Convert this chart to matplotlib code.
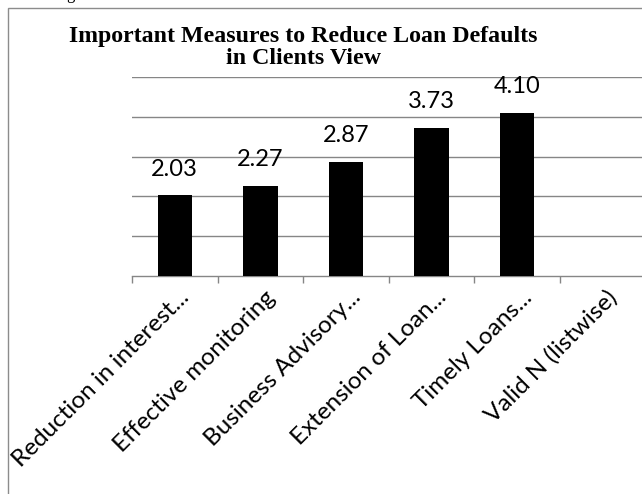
import numpy as np
import matplotlib
matplotlib.use("Agg")
import matplotlib.pyplot as plt
from matplotlib.patches import Rectangle

# Mean scores of the measures (last category has no score)
categories = ["Reduction in interest...", "Effective monitoring", "Business Advisory...",
              "Extension of Loan...", "Timely Loans...", "Valid N (listwise)"]
scores = [2.03, 2.27, 2.87, 3.73, 4.10]

W, H, DPI = 642, 494, 100
fig = plt.figure(figsize=(W / DPI, H / DPI), dpi=DPI)

# plot area in pixel coordinates
left, right, top, bottom = 132, 645.6, 77, 276
ax = fig.add_axes([left / W, 1 - bottom / H, (right - left) / W, (bottom - top) / H])

grey = "#868686"
x = np.arange(len(scores))
ax.bar(x, scores, width=0.4, color="black", zorder=3)

ax.set_xlim(-0.5, len(categories) - 0.5)
ax.set_ylim(0, 5)
ax.set_yticks(np.arange(1, 6))
ax.yaxis.grid(True, color=grey, linewidth=1.0)
ax.tick_params(axis="y", length=0, labelleft=False)
for side in ["left", "right", "top"]:
    ax.spines[side].set_visible(False)
ax.spines["bottom"].set_color(grey)
ax.spines["bottom"].set_linewidth(1.0)

# tick marks sit between categories
ax.set_xticks(np.arange(len(categories) + 1) - 0.5)
ax.tick_params(axis="x", direction="out", length=5, width=1.0, color=grey, labelbottom=False)

# value labels above bars
for xi, v in zip(x, scores):
    ax.annotate(f"{v:.2f}", xy=(xi, v), xytext=(0, 14), textcoords="offset points",
                ha="center", va="baseline", fontsize=17, family="Lato")

# rotated category labels
for i, name in enumerate(categories):
    ax.annotate(name, xy=(i, 0), xycoords=("data", "axes fraction"),
                xytext=(8.0, -13.0), textcoords="offset points",
                rotation=45, ha="right", va="center", rotation_mode="anchor",
                fontsize=17.5, family="Lato", annotation_clip=False)

# chart title
title_x = 303 / W
fig.text(title_x, 1 - 42 / H, "Important Measures to Reduce Loan Defaults",
         ha="center", va="baseline", fontsize=17.2, fontweight="bold", family="Liberation Serif")
fig.text(title_x, 1 - 64 / H, "in Clients View",
         ha="center", va="baseline", fontsize=17.2, fontweight="bold", family="Liberation Serif")

# chart frame running off the page edge
fig.patches.append(Rectangle((8 / W, -0.1), 1.2, 1.1 - 8 / H, transform=fig.transFigure,
                             fill=False, edgecolor="#8c8c8c", linewidth=1.0))

# tail of the line of text above the chart
fig.text(66 / W, 1 + 1 / H, "g", ha="left", va="baseline", fontsize=12, family="Liberation Serif")

fig.savefig("out.png", dpi=DPI)
